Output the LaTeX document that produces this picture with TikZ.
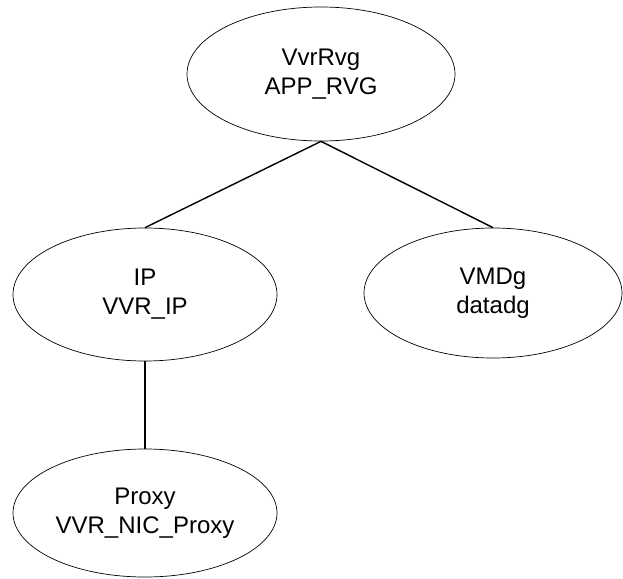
\documentclass[tikz,border=0pt]{standalone}
\usepackage{fontspec}
\setmainfont{Liberation Sans}
\usetikzlibrary{shapes.geometric}
\begin{document}
\begin{tikzpicture}[x=1pt,y=-1pt,
  ell/.style={draw, ellipse, line width=0.7pt, inner sep=0pt, align=center,
    font=\fontsize{24}{29}\selectfont},
  conn/.style={draw, line width=1.4pt}]
\useasboundingbox (0,0) rectangle (623,578);
\node[ell, minimum width=268pt, minimum height=134pt] (top) at (321,74) {VvrRvg\\APP\_RVG};
\node[ell, minimum width=264pt, minimum height=133pt] (ip) at (145,294.5) {IP\\VVR\_IP};
\node[ell, minimum width=258pt, minimum height=130pt] (vmd) at (493,293) {VMDg\\datadg};
\node[ell, minimum width=264pt, minimum height=128pt] (proxy) at (145,513) {Proxy\\VVR\_NIC\_Proxy};
\draw[conn] (top.south) -- (ip.north);
\draw[conn] (top.south) -- (vmd.north);
\draw[conn] (ip.south) -- (proxy.north);
\end{tikzpicture}
\end{document}
